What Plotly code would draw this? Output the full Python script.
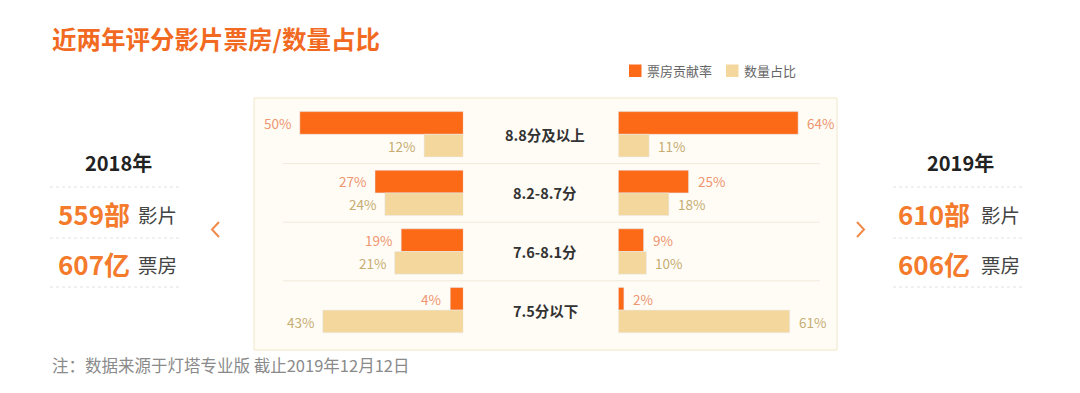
import plotly.graph_objects as go

# ---------------- data ----------------
categories = ["8.8分及以上", "8.2-8.7分", "7.6-8.1分", "7.5分以下"]
box_2018 = [50, 27, 19, 4]      # 票房贡献率 2018 (%)
count_2018 = [12, 24, 21, 43]   # 数量占比 2018 (%)
box_2019 = [64, 25, 9, 2]       # 票房贡献率 2019 (%)
count_2019 = [11, 18, 10, 61]   # 数量占比 2019 (%)
years = ["2018年", "2019年"]
films = ["559部", "610部"]
boxoffice = ["607亿", "606亿"]
series_names = ["票房贡献率", "数量占比"]

# ---------------- style ----------------
OFF = 8                      # page body margin
W, H = 1080 - OFF, 393 - OFF
FONT = "Noto Sans CJK SC"
ORANGE = "#fc6a17"
BEIGE = "#f4d79c"
ORANGE_TXT = "#ee9670"
BEIGE_TXT = "#c6ad72"
TITLE_C = "#f26a22"


def px(x):
    return (x - OFF) / W


def py(y):
    return 1 - (y - OFF) / H


# row geometry (screen pixels)
ROW0, ROWSTEP = 134.3, 58.6
y_top = -(ROW0 - OFF) / ROWSTEP
y_bot = (H + OFF - ROW0) / ROWSTEP
BARGAP = 1 - 2 * 22.7 / ROWSTEP

L_RIGHT, L_SCALE, L_LEFT = 463.3, 3.27, 254
R_LEFT, R_SCALE, R_RIGHT = 618.3, 2.81, 837

fig = go.Figure()
fig.add_trace(go.Bar(y=categories, x=box_2018, orientation="h", marker_color=ORANGE,
                     name=series_names[0], xaxis="x", yaxis="y", showlegend=False))
fig.add_trace(go.Bar(y=categories, x=count_2018, orientation="h", marker_color=BEIGE,
                     name=series_names[1], xaxis="x", yaxis="y", showlegend=False))
fig.add_trace(go.Bar(y=categories, x=box_2019, orientation="h", marker_color=ORANGE,
                     name=series_names[0], xaxis="x2", yaxis="y", showlegend=False))
fig.add_trace(go.Bar(y=categories, x=count_2019, orientation="h", marker_color=BEIGE,
                     name=series_names[1], xaxis="x2", yaxis="y", showlegend=False))

ann = []
shapes = []

# panel background
shapes.append(dict(type="rect", xref="paper", yref="paper", x0=px(254), x1=px(837),
                   y0=py(350), y1=py(98), fillcolor="#fffcf6",
                   line=dict(color="#f2e6c8", width=1), layer="below"))
# row separators
for k in range(len(categories) - 1):
    shapes.append(dict(type="line", xref="paper", yref="y", x0=px(283), x1=px(820),
                       y0=k + 0.5, y1=k + 0.5, line=dict(color="#f1eadc", width=1),
                       layer="below"))

# bar value labels
HALF = 11.5
LBL = 13.5
for i, c in enumerate(categories):
    ann.append(dict(xref="x", yref="y", x=box_2018[i], y=i, yshift=HALF, xshift=-7,
                    xanchor="right", yanchor="middle", text=f"{box_2018[i]}%",
                    showarrow=False, font=dict(family=FONT, size=LBL, color=ORANGE_TXT)))
    ann.append(dict(xref="x", yref="y", x=count_2018[i], y=i, yshift=-HALF, xshift=-7,
                    xanchor="right", yanchor="middle", text=f"{count_2018[i]}%",
                    showarrow=False, font=dict(family=FONT, size=LBL, color=BEIGE_TXT)))
    ann.append(dict(xref="x2", yref="y", x=box_2019[i], y=i, yshift=HALF, xshift=7,
                    xanchor="left", yanchor="middle", text=f"{box_2019[i]}%",
                    showarrow=False, font=dict(family=FONT, size=LBL, color=ORANGE_TXT)))
    ann.append(dict(xref="x2", yref="y", x=count_2019[i], y=i, yshift=-HALF, xshift=7,
                    xanchor="left", yanchor="middle", text=f"{count_2019[i]}%",
                    showarrow=False, font=dict(family=FONT, size=LBL, color=BEIGE_TXT)))
    ann.append(dict(xref="paper", yref="y", x=px(545), y=i, xanchor="center",
                    yanchor="middle", text=f"<b>{c}</b>", showarrow=False,
                    font=dict(family=FONT, size=14.5, color="#333333")))

# title
ann.append(dict(xref="paper", yref="paper", x=px(50), y=py(38), xanchor="left",
                yanchor="middle", text="<b>近两年评分影片票房/数量占比</b>", showarrow=False,
                font=dict(family=FONT, size=24.5, color=TITLE_C)))

# legend (manual)
for (x0, col, name) in [(629, ORANGE, series_names[0]), (726, BEIGE, series_names[1])]:
    shapes.append(dict(type="rect", xref="paper", yref="paper", x0=px(x0), x1=px(x0 + 12.5),
                       y0=py(77), y1=py(64.5), fillcolor=col, line=dict(width=0)))
    ann.append(dict(xref="paper", yref="paper", x=px(x0 + 16), y=py(70.5), xanchor="left",
                    yanchor="middle", text=name, showarrow=False,
                    font=dict(family=FONT, size=13, color="#666666")))

# side panels
for cx, x_num, x_unit, x_line0, x_line1, yr, fm, bo in [
    (118, 56, 136, 50, 182, years[0], films[0], boxoffice[0]),
    (960, 896, 979, 893, 1023, years[1], films[1], boxoffice[1]),
]:
    ann.append(dict(xref="paper", yref="paper", x=px(cx), y=py(162), xanchor="center",
                    yanchor="middle", text=f"<b>{yr}</b>", showarrow=False,
                    font=dict(family=FONT, size=20, color="#222222")))
    for yy in (187, 238, 287):
        shapes.append(dict(type="line", xref="paper", yref="paper", x0=px(x_line0),
                           x1=px(x_line1), y0=py(yy), y1=py(yy),
                           line=dict(color="#e2e2e2", width=1, dash="dot")))
    for yy, big, small in [(214, fm, "影片"), (263, bo, "票房")]:
        ann.append(dict(xref="paper", yref="paper", x=px(x_num), y=py(yy), xanchor="left",
                        yanchor="middle", text=f"<b>{big}</b>", showarrow=False,
                        font=dict(family=FONT, size=26, color="#f47a2c")))
        ann.append(dict(xref="paper", yref="paper", x=px(x_unit), y=py(yy + 1), xanchor="left",
                        yanchor="middle", text=small, showarrow=False,
                        font=dict(family=FONT, size=19.5, color="#444444")))

# chevrons
shapes.append(dict(type="path", xref="paper", yref="paper",
                   path=f"M {px(219)},{py(222)} L {px(212)},{py(229.5)} L {px(219)},{py(237)}",
                   line=dict(color="#f08a4b", width=2)))
shapes.append(dict(type="path", xref="paper", yref="paper",
                   path=f"M {px(857)},{py(222)} L {px(864)},{py(229.5)} L {px(857)},{py(237)}",
                   line=dict(color="#f08a4b", width=2)))

# footnote
ann.append(dict(xref="paper", yref="paper", x=px(50), y=py(365), xanchor="left",
                yanchor="middle", text="注：数据来源于灯塔专业版 截止2019年12月12日",
                showarrow=False, font=dict(family=FONT, size=16.5, color="#8a8a8a")))

fig.update_layout(
    width=W, height=H, autosize=False,
    margin=dict(l=0, r=0, t=0, b=0),
    paper_bgcolor="white", plot_bgcolor="rgba(0,0,0,0)",
    barmode="group", bargap=BARGAP, bargroupgap=0,
    showlegend=False,
    xaxis=dict(domain=[px(L_LEFT), px(L_RIGHT)],
               range=[(L_RIGHT - L_LEFT) / L_SCALE, 0],
               visible=False, fixedrange=True, anchor="y"),
    xaxis2=dict(domain=[px(R_LEFT), px(R_RIGHT)],
                range=[0, (R_RIGHT - R_LEFT) / R_SCALE],
                visible=False, fixedrange=True, anchor="y"),
    yaxis=dict(domain=[0, 1], type="category", categoryorder="array",
               categoryarray=categories, range=[y_bot, y_top],
               visible=False, fixedrange=True),
    annotations=ann, shapes=shapes,
    font=dict(family=FONT),
)

fig.write_html("out.html")
